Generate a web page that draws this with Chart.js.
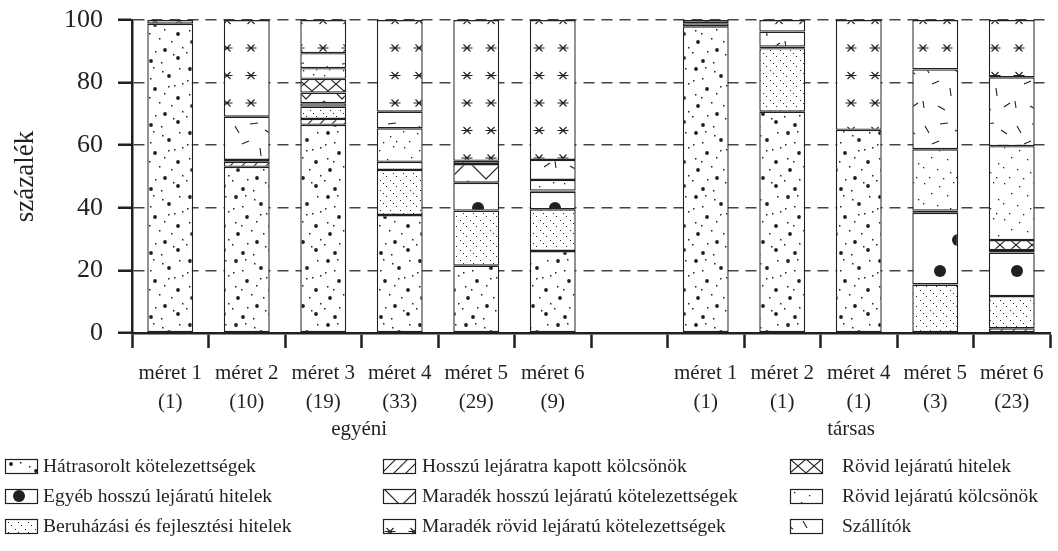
<!DOCTYPE html>
<html>
<head>
<meta charset="utf-8">
<script src="https://cdn.jsdelivr.net/npm/chart.js@4.4.0/dist/chart.umd.min.js"></script>
<style>
  html, body { margin: 0; padding: 0; background: #fff; }
  canvas { display: block; }
</style>
</head>
<body>
<canvas id="chart" width="1058" height="551"></canvas>
<script>
// categories: 6 "egyéni" sizes, an empty slot, 5 "társas" sizes
const sizeLabels = ['méret 1', 'méret 2', 'méret 3', 'méret 4', 'méret 5', 'méret 6', '',
                    'méret 1', 'méret 2', 'méret 4', 'méret 5', 'méret 6'];
const counts = ['(1)', '(10)', '(19)', '(33)', '(29)', '(9)', '', '(1)', '(1)', '(1)', '(3)', '(23)'];
const groupNames = ['egyéni', 'társas'];
const yTicks = [0, 20, 40, 60, 80, 100];

// series, in stacking order (bottom to top)
const hatrasorolt      = [98.8, 53.1, 66.5, 37.7, 21.5, 26.2, 0, 98.0, 70.7, 64.9, 0, 0];
const hosszuKolcsonok  = [0, 1.6, 1.9, 0, 0, 0, 0, 0, 0, 0, 0, 1.5];
const beruhazasi       = [0, 0, 3.9, 14.4, 17.6, 13.3, 0, 0, 20.3, 0, 15.5, 10.3];
const egyebHosszu      = [0, 0, 1.1, 2.6, 8.9, 5.6, 0, 0, 0.5, 0, 22.9, 13.9];
const maradekHosszu    = [0, 0, 3.4, 0, 6.0, 0.4, 0, 0, 0, 0, 0.7, 0.8];
const rovidHitelek     = [0, 0, 4.4, 0, 0, 0, 0, 0, 0, 0, 0, 3.2];
const rovidKolcsonok   = [0, 0.6, 3.4, 10.7, 0, 3.4, 0, 1.0, 0, 0, 19.6, 30.0];
const szallitok        = [0, 13.8, 4.8, 5.3, 1.0, 6.4, 0, 0, 4.8, 0, 25.5, 22.0];
const maradekRovid     = [1.2, 30.9, 10.6, 29.3, 45.0, 44.7, 0, 1.0, 3.7, 35.1, 15.8, 18.3];

const font = '"Liberation Serif", "Times New Roman", serif';
const ink = '#231f20';

const canvas = document.getElementById('chart');
const ctx = canvas.getContext('2d');

// ---- fill patterns ----
function makePattern(w, h, draw) {
    const c = document.createElement('canvas');
    c.width = w;
    c.height = h;
    const g = c.getContext('2d');
    g.fillStyle = '#fff';
    g.fillRect(0, 0, w, h);
    g.fillStyle = ink;
    g.strokeStyle = ink;
    g.lineWidth = 1.1;
    draw(g);
    return ctx.createPattern(c, 'repeat');
}
function dots(g, list, r) {
    list.forEach(([x, y]) => { g.beginPath(); g.arc(x, y, r, 0, Math.PI * 2); g.fill(); });
}
function specks(g, list, s) {
    list.forEach(([x, y]) => g.fillRect(x, y, s, s));
}
function lines(g, list) {
    g.beginPath();
    list.forEach(([x1, y1, x2, y2]) => { g.moveTo(x1, y1); g.lineTo(x2, y2); });
    g.stroke();
}

const pHatra = makePattern(46, 64, g => {
    dots(g, [[6, 5], [31, 12], [17, 25], [40, 34], [8, 42], [27, 50], [40, 58], [13, 61]], 1.9);
    specks(g, [[15, 3], [24, 7], [41, 4], [3, 16], [12, 14], [36, 21], [26, 29], [5, 30],
               [44, 19], [21, 38], [33, 41], [2, 52], [17, 51], [35, 54], [23, 62], [30, 22],
               [11, 33], [44, 47]], 1.5);
});
const pHosszu = makePattern(12, 12, g => {
    lines(g, [[0, 12, 12, 0], [-1, 1, 1, -1], [11, 13, 13, 11]]);
});
const pBeruh = makePattern(10, 10, g => {
    specks(g, [[0, 0], [3, 3], [6, 6]], 1.0);
});
const pEgyeb = makePattern(77, 63, g => {
    dots(g, [[16, 19], [34, 51]], 6);
});
const pMaradekH = makePattern(36, 20, g => {
    g.beginPath(); g.moveTo(0, 1); g.lineTo(18, 19); g.lineTo(36, 1); g.stroke();
});
const pRovidH = makePattern(16, 14, g => {
    lines(g, [[0, 0, 16, 14], [16, 0, 0, 14]]);
});
const pRovidK = makePattern(40, 36, g => {
    specks(g, [[4, 3], [19, 6], [33, 2], [11, 13], [27, 15], [38, 19], [3, 23], [17, 25],
               [30, 28], [9, 33], [23, 34], [36, 33]], 1.3);
});
const pSzall = makePattern(46, 60, g => {
    lines(g, [[5, 6, 9, 13], [20, 4, 28, 3], [35, 10, 41, 14], [12, 24, 19, 21],
              [30, 28, 31, 36], [3, 41, 4, 48], [18, 46, 25, 50], [38, 47, 44, 43]]);
});
const pMaradekR = makePattern(24, 55, g => {
    [[11, 20.5], [11, 48]].forEach(([cx, cy]) => {
        lines(g, [[cx - 3.5, cy - 3.5, cx + 3.5, cy + 3.5], [cx + 3.5, cy - 3.5, cx - 3.5, cy + 3.5],
                  [cx - 5.5, cy, cx + 5.5, cy]]);
    });
});

const series = [
    { label: 'Hátrasorolt kötelezettségek', data: hatrasorolt, fill: pHatra, shift: [0, 0] },
    { label: 'Hosszú lejáratra kapott kölcsönök', data: hosszuKolcsonok, fill: pHosszu, shift: [0, 1] },
    { label: 'Beruházási és fejlesztési hitelek', data: beruhazasi, fill: pBeruh, shift: [0, 0] },
    { label: 'Egyéb hosszú lejáratú hitelek', data: egyebHosszu, fill: pEgyeb, shift: [-2, -12] },
    { label: 'Maradék hosszú lejáratú kötelezettségek', data: maradekHosszu, fill: pMaradekH, shift: [0, -2] },
    { label: 'Rövid lejáratú hitelek', data: rovidHitelek, fill: pRovidH, shift: [0, 0] },
    { label: 'Rövid lejáratú kölcsönök', data: rovidKolcsonok, fill: pRovidK, shift: [0, 0] },
    { label: 'Szállítók', data: szallitok, fill: pSzall, shift: [8, -4] },
    { label: 'Maradék rövid lejáratú kötelezettségek', data: maradekRovid, fill: pMaradekR, shift: [-4, -8] }
];
// legend columns, top to bottom (indexes into series)
const legendColumns = [[0, 3, 2], [1, 4, 8], [5, 6, 7]];

const legendPlugin = {
    id: 'patternLegend',
    afterDraw(chart) {
        const c = chart.ctx;
        const boxX = [5, 383, 790];
        const textX = [43, 422, 842];
        const rowY = [466, 496, 526];
        c.save();
        c.font = '19.5px ' + font;
        c.textBaseline = 'middle';
        c.textAlign = 'left';
        legendColumns.forEach((col, ci) => {
            col.forEach((si, ri) => {
                const s = series[si];
                const bx = boxX[ci], by = rowY[ri] - 7;
                c.save();
                c.translate(bx + s.shift[0], by + s.shift[1]);
                c.fillStyle = s.fill;
                c.fillRect(-s.shift[0], -s.shift[1], 32, 14);
                c.restore();
                c.lineWidth = 1.2;
                c.strokeStyle = ink;
                c.strokeRect(bx + 0.5, by + 0.5, 32, 14);
                c.fillStyle = ink;
                c.fillText(s.label, textX[ci], rowY[ri] + 1);
            });
        });
        c.restore();
    }
};

const groupPlugin = {
    id: 'groupLabels',
    afterDraw(chart) {
        const x = chart.scales.x;
        const c = chart.ctx;
        const at = [2.47, 8.9];
        c.save();
        c.font = '21px ' + font;
        c.fillStyle = ink;
        c.textAlign = 'center';
        c.textBaseline = 'middle';
        groupNames.forEach((n, i) => c.fillText(n, x.getPixelForValue(at[i]), 429));
        c.restore();
    }
};

new Chart(ctx, {
    type: 'bar',
    data: {
        labels: sizeLabels.map((s, i) => [s, counts[i]]),
        datasets: series.map(s => ({
            label: s.label,
            data: s.data,
            backgroundColor: s.fill,
            borderColor: ink,
            borderWidth: 1.4,
            borderSkipped: false,
            barPercentage: 0.6,
            categoryPercentage: 1.0
        }))
    },
    options: {
        responsive: false,
        animation: false,
        layout: { padding: { top: 20, right: 8, left: 0, bottom: 0 } },
        plugins: {
            legend: { display: false },
            tooltip: { enabled: false }
        },
        scales: {
            x: {
                stacked: true,
                grid: {
                    drawOnChartArea: false,
                    offset: true,
                    tickLength: 15,
                    tickWidth: 2.5,
                    tickColor: ink
                },
                border: { color: ink, width: 2.5 },
                ticks: {
                    color: ink,
                    font: { family: font, size: 21, lineHeight: 1.38 },
                    padding: 11,
                    maxRotation: 0,
                    autoSkip: false
                },
                afterFit: s => { s.height = 218; s.paddingLeft = 0; s.paddingRight = 0; }
            },
            y: {
                stacked: true,
                min: 0,
                max: 100,
                afterBuildTicks: s => { s.ticks = yTicks.map(v => ({ value: v })); },
                ticks: {
                    color: ink,
                    font: { family: font, size: 26 },
                    padding: 15
                },
                grid: {
                    color: '#444',
                    lineWidth: 1.5,
                    tickLength: 14,
                    tickWidth: 2.5,
                    tickColor: ink,
                    tickBorderDash: []
                },
                border: { color: ink, width: 2.5, dash: [11, 7] },
                title: {
                    display: true,
                    text: 'százalék',
                    color: ink,
                    font: { family: font, size: 27 },
                    padding: { top: 10, bottom: 0 }
                },
                afterFit: s => { s.width = 132; s.paddingTop = 0; s.paddingBottom = 0; }
            }
        }
    },
    plugins: [groupPlugin, legendPlugin]
});
</script>
</body>
</html>
